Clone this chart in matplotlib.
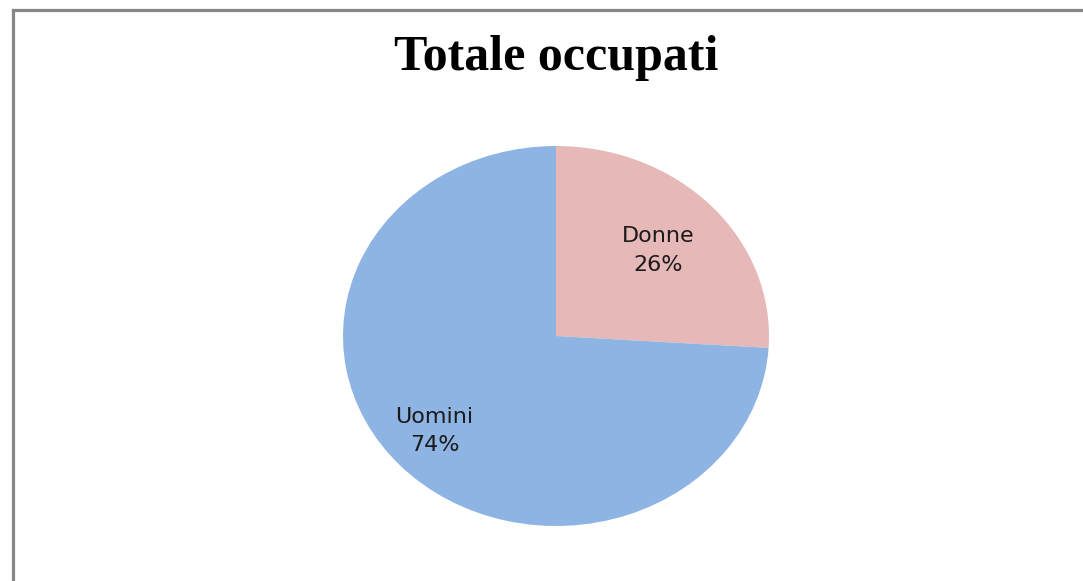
import matplotlib
matplotlib.use("Agg")
import matplotlib.pyplot as plt
from matplotlib.lines import Line2D

labels = ["Donne", "Uomini"]
values = [26, 74]
colors = ["#E6B9B8", "#8EB4E3"]
title = "Totale occupati"

W, H = 1083, 581
fig = plt.figure(figsize=(W / 100, H / 100), dpi=100)

# frame of the chart area (only left and top visible)
fig.add_artist(Line2D([13 / W, 13 / W], [0, 1 - 10 / H], color="#878787", lw=2.3,
                      transform=fig.transFigure))
fig.add_artist(Line2D([13 / W, 1], [1 - 10 / H, 1 - 10 / H], color="#878787", lw=2.3,
                      transform=fig.transFigure))

fig.text(556 / W, 1 - 58 / H, title, ha="center", va="center",
         family="Liberation Serif", fontweight="bold", fontsize=36)

# pie box, slightly elliptical like the original
ax = fig.add_axes([343 / W, (H - 526) / H, 426 / W, 380 / H])
wedges, _ = ax.pie(values, colors=colors, startangle=90, counterclock=False,
                   wedgeprops=dict(linewidth=0))
ax.set_aspect("auto")
ax.set_xlim(-1, 1)
ax.set_ylim(-1, 1)

label_pos = [(0.48, 0.45), (-0.57, -0.50)]
for lab, v, (x, y) in zip(labels, values, label_pos):
    ax.text(x, y, f"{lab}\n{v}%", ha="center", va="center", fontsize=16,
            family="DejaVu Sans", color="#1a1a1a", linespacing=1.55)

fig.savefig("out.png", dpi=100)
